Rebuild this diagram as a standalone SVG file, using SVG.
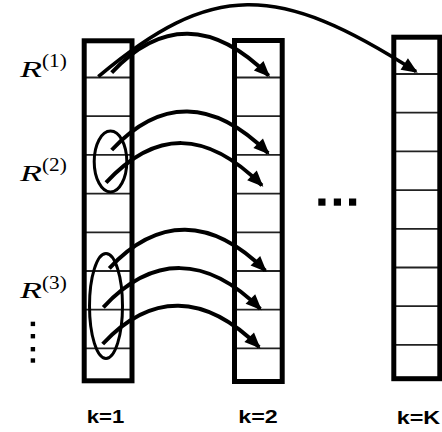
<svg xmlns="http://www.w3.org/2000/svg" width="442" height="432" viewBox="0 0 442 432">
<defs>
<style>
.col{fill:none;stroke:#000;stroke-width:5}
.row{stroke:#222;stroke-width:1.8}
.grp{fill:none;stroke:#000;stroke-width:3}
.arr{fill:none;stroke:#000;stroke-width:4;marker-end:url(#ah)}
.math{font-family:"Liberation Serif","DejaVu Serif",serif;fill:#000}
.lab{font-family:"Liberation Sans",Arial,sans-serif;font-weight:bold;font-size:18px;fill:#000}
</style>
<marker id="ah" markerUnits="userSpaceOnUse" markerWidth="22" markerHeight="18" viewBox="-17 -9 22 18" refX="0" refY="0" orient="auto">
<path d="M2,0 L-14,-6.8 L-14,6.8 Z" fill="#000"/>
</marker>
</defs>
<rect width="442" height="432" fill="#fff"/>
<g id="col1">
<g class="row">
<line x1="84" y1="77.5" x2="132" y2="77.5"/><line x1="84" y1="116.2" x2="132" y2="116.2"/><line x1="84" y1="154.9" x2="132" y2="154.9"/><line x1="84" y1="193.6" x2="132" y2="193.6"/><line x1="84" y1="232.3" x2="132" y2="232.3"/><line x1="84" y1="271" x2="132" y2="271"/><line x1="84" y1="309.7" x2="132" y2="309.7"/><line x1="84" y1="348.4" x2="132" y2="348.4"/>
</g>
<rect class="col" x="84.2" y="40.8" width="47.8" height="340"/>
<text class="lab" x="86.7" y="422.5" textLength="37.5" lengthAdjust="spacingAndGlyphs">k=1</text>
</g>
<g id="col2">
<g class="row">
<line x1="234" y1="77.5" x2="282" y2="77.5"/><line x1="234" y1="116.2" x2="282" y2="116.2"/><line x1="234" y1="154.9" x2="282" y2="154.9"/><line x1="234" y1="193.6" x2="282" y2="193.6"/><line x1="234" y1="232.3" x2="282" y2="232.3"/><line x1="234" y1="271" x2="282" y2="271"/><line x1="234" y1="309.7" x2="282" y2="309.7"/><line x1="234" y1="348.4" x2="282" y2="348.4"/>
</g>
<rect class="col" x="234.5" y="40.5" width="47.7" height="341"/>
<text class="lab" x="238.3" y="422.5" textLength="39.5" lengthAdjust="spacingAndGlyphs">k=2</text>
</g>
<g id="colK">
<g class="row">
<line x1="394" y1="74" x2="440" y2="74"/><line x1="394" y1="112.7" x2="440" y2="112.7"/><line x1="394" y1="151.4" x2="440" y2="151.4"/><line x1="394" y1="190.1" x2="440" y2="190.1"/><line x1="394" y1="228.8" x2="440" y2="228.8"/><line x1="394" y1="267.5" x2="440" y2="267.5"/><line x1="394" y1="306.2" x2="440" y2="306.2"/><line x1="394" y1="344.9" x2="440" y2="344.9"/>
</g>
<rect class="col" x="393.8" y="37.2" width="46" height="341.5"/>
<text class="lab" x="396.7" y="424.2" textLength="43.5" lengthAdjust="spacingAndGlyphs">k=K</text>
</g>
<g id="labelR1">
<text class="math" x="20" y="76.7" font-size="22.7" font-style="italic" textLength="22" lengthAdjust="spacingAndGlyphs">R</text>
<text class="math" x="42" y="67.3" font-size="19" textLength="24.7" lengthAdjust="spacingAndGlyphs">(1)</text>
</g>
<g id="labelR2">
<text class="math" x="20" y="180.7" font-size="22.7" font-style="italic" textLength="22" lengthAdjust="spacingAndGlyphs">R</text>
<text class="math" x="42" y="171.3" font-size="19" textLength="24.7" lengthAdjust="spacingAndGlyphs">(2)</text>
</g>
<g id="labelR3">
<text class="math" x="20" y="298.3" font-size="22.7" font-style="italic" textLength="22" lengthAdjust="spacingAndGlyphs">R</text>
<text class="math" x="42" y="288.9" font-size="19" textLength="24.7" lengthAdjust="spacingAndGlyphs">(3)</text>
</g>
<g id="vdots" fill="#000">
<rect x="30.7" y="321.7" width="4.4" height="4.4"/><rect x="30.7" y="334" width="4.4" height="4.4"/><rect x="30.7" y="347" width="4.4" height="4.4"/><rect x="30.7" y="358.3" width="4.4" height="4.4"/>
</g>
<g id="hdots" fill="#000">
<rect x="318.3" y="198.5" width="7.2" height="7.2"/><rect x="333.8" y="198.5" width="7.2" height="7.2"/><rect x="349" y="198.5" width="7.2" height="7.2"/>
</g>
<g id="group2"><ellipse class="grp" cx="110.5" cy="161.5" rx="16.3" ry="30.5"/></g>
<g id="group3"><ellipse class="grp" cx="106" cy="306" rx="16.5" ry="52.5"/></g>
<g id="connectors">
<path class="arr" style="stroke-width:3.6" d="M98.3,76.7 C211.6,-18.3 276.4,-18.3 416,71.6"/>
<path class="arr" d="M111.7,72.7 C160.5,20.4 213.4,20.4 268.6,75.6"/>
<path class="arr" d="M111.7,150 C160,98.2 213,98.2 268.1,153.1"/>
<path class="arr" d="M106,182.7 C155.7,129.5 206,129.5 261.9,185.3"/>
<path class="arr" d="M109.3,268.3 C157.6,216.6 211.3,216.6 265.3,270.6"/>
<path class="arr" d="M103.3,307.3 C152.3,254.8 206.2,254.8 260.3,308.9"/>
<path class="arr" d="M102.7,344 C150.7,292.6 204.5,292.6 259.1,347.1"/>
</g>
</svg>
